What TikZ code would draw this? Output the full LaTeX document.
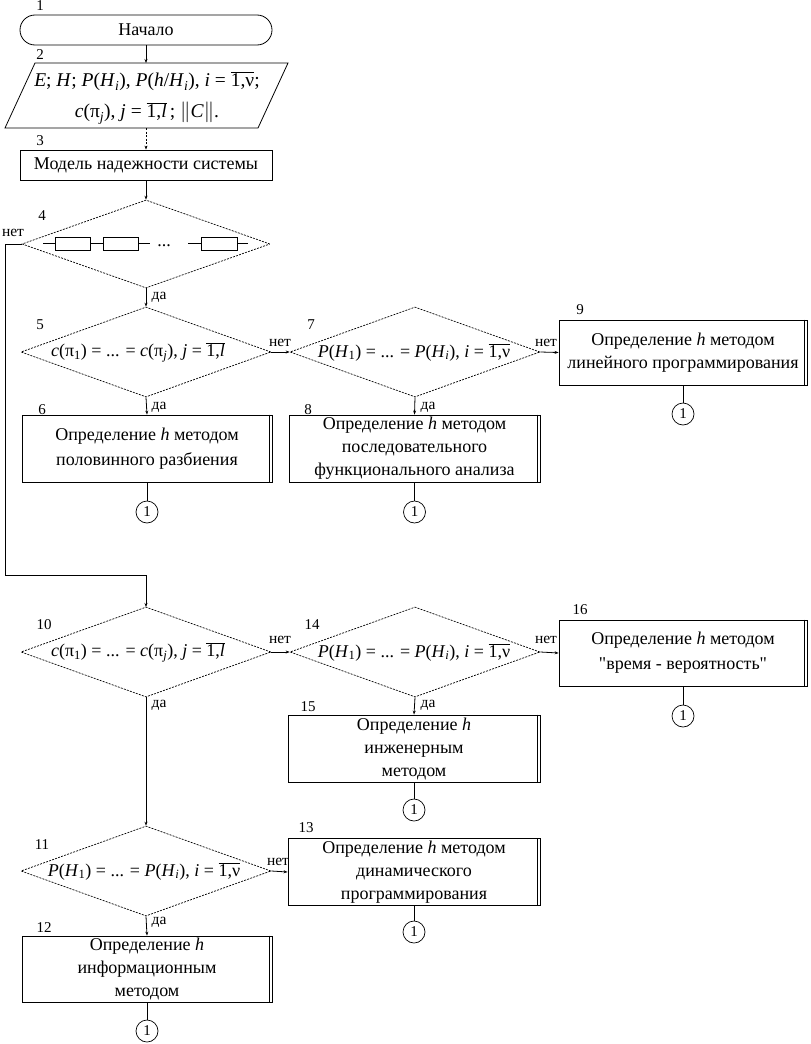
\documentclass[tikz,border=0pt]{standalone}
\usepackage{fontspec}
\setmainfont{Liberation Serif}
\newfontfamily\plainq{Liberation Serif}
\usetikzlibrary{shapes.geometric,arrows.meta}
\newcommand\fsz{\fontsize{18}{23}\selectfont}
\newcommand\fmath{\fontsize{19.5}{31}\selectfont}
\newcommand\fdmath{\fontsize{18}{22}\selectfont}
\newcommand\fnum{\fontsize{15}{15}\selectfont}
\newcommand\fyn{\fontsize{15.5}{15}\selectfont}
\newcommand\vi[1]{\textit{#1}}
\newcommand\sbs[1]{\textsubscript{#1}}
\newcommand\ovl[1]{$\overline{\mbox{#1}}$}
\newcommand\sq{{\plainq\symbol{"22}}}
\newcommand\dblr[1]{\draw[ln] ([xshift=-3pt]#1.north east) -- ([xshift=-3pt]#1.south east);}
\tikzset{
 ln/.style={line width=0.8pt},
 arr/.style={line width=0.8pt,-{Stealth[length=4pt,width=3pt]}},
 box/.style={draw,line width=0.8pt,minimum width=250pt,minimum height=67pt,inner sep=2pt,align=center,font=\fsz},
 dec/.style={diamond,draw,dash pattern=on 2pt off 1.2pt,line width=0.7pt,minimum width=250pt,minimum height=90pt,inner sep=0pt,aspect=2.78},
 num/.style={font=\fnum,inner sep=0pt},
 yn/.style={font=\fyn,inner sep=0pt},
 conn/.style={circle,draw,line width=0.7pt,minimum size=22pt,inner sep=0pt,font=\fnum},
 mtxt/.style={font=\fmath,inner sep=0pt},
 dtxt/.style={font=\fdmath,inner sep=0pt}
}
\newcommand\formC{\vi{c}(π\sbs{1}) = ... = \vi{c}(π\sbs{\vi{j}}), \vi{j} = \ovl{1,\vi{l}}}
\newcommand\formP{\vi{P}(\vi{H}\sbs{1}) = ... = \vi{P}(\vi{H}\sbs{\vi{i}}), \vi{i} = \ovl{1,ν}}
\begin{document}
\begin{tikzpicture}[x=1pt,y=-1pt]
\useasboundingbox[fill=white] (0,0) rectangle (811,1044);
% start
\node[draw,line width=0.8pt,rounded corners=15pt,minimum width=252pt,minimum height=30pt,font=\fsz] (n1) at (146,30) {Начало};
\node[num] (l1) at (40,6) {1};
% input
\coordinate (inT) at (146,63);
\coordinate (inB) at (146,128);
\draw[ln] (35,63) -- (288,63) -- (258,128) -- (5,128) -- cycle;
\node[mtxt,align=center] (n2) at (147,98) {\vi{E}; \vi{H}; \vi{P}(\vi{H}\sbs{\vi{i}}), \vi{P}(\vi{h}/\vi{H}\sbs{\vi{i}}), \vi{i} = \ovl{1,ν};\\ \vi{c}(π\sbs{\vi{j}}), \vi{j} = \ovl{1,\vi{l}}\,; $\|$\vi{C}$\|$.};
\node[num] (l2) at (40,55) {2};
% model
\node[draw,line width=0.8pt,minimum width=252pt,minimum height=30pt,font=\fsz] (n3) at (146,165) {Модель надежности системы};
\node[num] (l3) at (40,141) {3};
% diamond 4
\node[dec,minimum width=248pt,minimum height=88pt] (d4) at (146,244) {};
\node[num] (l4) at (42,216) {4};
\draw[ln] (43,243) -- (55,243) (90,243) -- (103,243) (138,243) -- (150,243) (188,243) -- (201,243) (237,243) -- (248,243);
\draw[ln] (55,237) rectangle (90,250) (103,237) rectangle (138,250) (201,237) rectangle (237,250);
\node[font=\fsz,inner sep=0pt,anchor=base] (dots4) at (164,246) {...};
\node[yn] (no4) at (13,233) {нет};
\coordinate (c4) at (5,575);
\draw[ln] (d4.west) -| (c4);
\draw[arr] (c4) -| (146,607);
\node[yn] (yes4) at (159,297) {да};
% diamond 5
\node[dec] (d5) at (146,352) {};
\node[dtxt] (t5) at (138,352) {\formC};
\node[num] (l5) at (40,325) {5};
% diamond 7
\node[dec] (d7) at (415,352) {};
\node[dtxt] (t7) at (414,352) {\formP};
\node[num] (l7) at (311,325) {7};
\node[yn] (no5) at (280,343) {нет};
\node[yn] (no7) at (546,343) {нет};
% box 9
\node[box,minimum width=248pt,minimum height=65pt] (b9) at (683,352.5) {Определение \vi{h} методом\\линейного программирования};
\dblr{b9}
\node[num] (l9) at (580,310) {9};
\node[conn] (c9) at (683,414) {1};
% box 6
\node[box] (b6) at (147,448.5) {Определение \vi{h} методом\\[2pt]половинного разбиения};
\dblr{b6}
\node[num] (l6) at (42,410) {6};
\node[yn] (yes5) at (159,407) {да};
\node[conn] (c6) at (147,512) {1};
% box 8
\node[box,minimum width=251pt] (b8) at (414.5,448.5) {Определение \vi{h} методом\\последовательного\\функционального анализа};
\dblr{b8}
\node[num] (l8) at (308,410) {8};
\node[yn] (yes7) at (428,407) {да};
\node[conn] (c8) at (414.5,512) {1};
% diamond 10
\node[dec] (d10) at (146,652) {};
\node[dtxt] (t10) at (138,652) {\formC};
\node[num] (l10) at (44,625) {10};
\node[yn] (no10) at (280,640) {нет};
\node[yn] (yes10) at (159,705) {да};
% diamond 14
\node[dec] (d14) at (415,652) {};
\node[dtxt] (t14) at (414,652) {\formP};
\node[num] (l14) at (312,625) {14};
\node[yn] (no14) at (546,640) {нет};
\node[yn] (yes14) at (428,705) {да};
% box 16
\node[box,minimum width=248pt,minimum height=66pt] (b16) at (683,653) {Определение \vi{h} методом\\[2pt]\sq время - вероятность\sq};
\dblr{b16}
\node[num] (l16) at (580,610) {16};
\node[conn] (c16) at (683,716) {1};
% box 15
\node[box,minimum width=252pt] (b15) at (414,748.5) {Определение \vi{h}\\инженерным\\методом};
\dblr{b15}
\node[num] (l15) at (308,707) {15};
\node[conn] (c15) at (414,810) {1};
% diamond 11
\node[dec] (d11) at (146,871) {};
\node[dtxt] (t11) at (144,871) {\formP};
\node[num] (l11) at (42,845) {11};
\node[yn] (no11) at (278,862) {нет};
\node[yn] (yes11) at (159,922) {да};
% box 13
\node[box,minimum width=252pt,minimum height=66pt] (b13) at (414,872) {Определение \vi{h} методом\\динамического\\программирования};
\dblr{b13}
\node[num] (l13) at (306,828) {13};
\node[conn] (c13) at (414,932) {1};
% box 12
\node[box,minimum height=66pt] (b12) at (147,969) {Определение \vi{h}\\информационным\\методом};
\dblr{b12}
\node[num] (l12) at (44,928) {12};
\node[conn] (c12) at (147,1031) {1};
% connectors
\draw[arr] (n1.south) -- (inT);
\draw[arr,dash pattern=on 2pt off 1.5pt] (inB) -- (n3.north);
\draw[arr] (n3.south) -- (d4.north);
\draw[arr] (d4.south) -- (d5.north);
\draw[arr] (d5.east) -- (d7.west);
\draw[arr] (d7.east) -- (b9.west);
\draw[arr] (d5.south) -- (b6.north);
\draw[arr] (d7.south) -- (b8.north);
\draw[ln] (b9.south) -- (c9.north);
\draw[ln] (b6.south) -- (c6.north);
\draw[ln] (b8.south) -- (c8.north);
\draw[arr] (d10.east) -- (d14.west);
\draw[arr] (d14.east) -- (b16.west);
\draw[arr] (d14.south) -- (b15.north);
\draw[arr] (d10.south) -- (d11.north);
\draw[arr] (d11.east) -- (b13.west);
\draw[arr] (d11.south) -- (b12.north);
\draw[ln] (b16.south) -- (c16.north);
\draw[ln] (b15.south) -- (c15.north);
\draw[ln] (b13.south) -- (c13.north);
\draw[ln] (b12.south) -- (c12.north);
\end{tikzpicture}
\end{document}
